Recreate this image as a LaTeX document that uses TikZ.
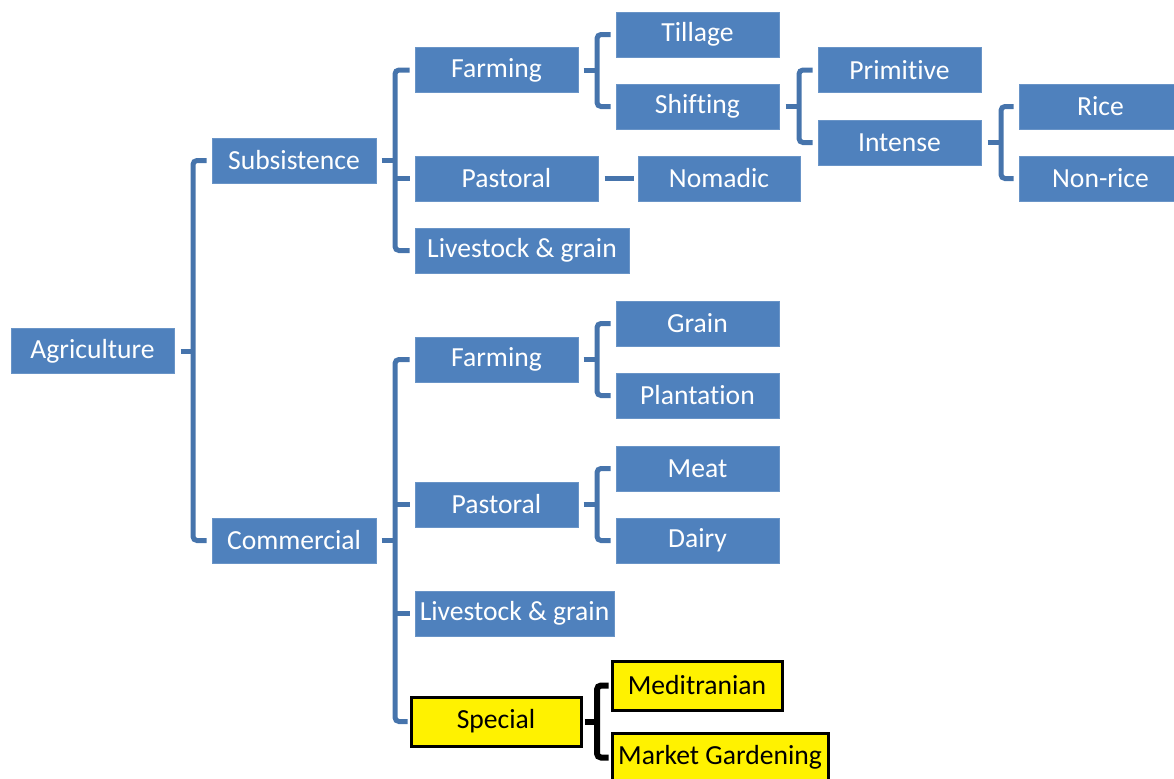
\documentclass[tikz,border=0pt]{standalone}
\usepackage{fontspec}
\setmainfont{Carlito}[Ligatures={NoCommon}]
\definecolor{boxblue}{HTML}{4F81BD}
\definecolor{lineblue}{HTML}{4674AC}
\begin{document}
\begin{tikzpicture}[x=0.5pt,y=-0.5pt,
  box/.style={fill=boxblue,draw=boxblue!85!white,line width=0.5pt,text=white,
    minimum height=22.5pt,inner sep=0pt,font=\fontsize{13.8}{16}\selectfont},
  yellowbox/.style={box,fill=yellow,draw=black,line width=1.5pt,text=black,minimum height=24.5pt},
  br/.style={draw=lineblue,line width=2.5pt,rounded corners=2pt},
  brk/.style={br,draw=black,line width=3pt}]
\useasboundingbox (0,0) rectangle (1174,778);

% level 0 and 1
\node[box,minimum width=81.5pt] (agri) at (92.5,351) {Agriculture};
\node[box,minimum width=82pt] (subs) at (294,160.5) {Subsistence};
\node[box,minimum width=82pt] (comm) at (294,540.5) {Commercial};

% subsistence branch
\node[box,minimum width=81.5pt] (sfarm) at (496.5,70) {Farming};
\node[box,minimum width=91.5pt] (spast) at (506.5,178.5) {Pastoral};
\node[box,minimum width=107pt] (slive) at (522,250.5) {Livestock \& grain};
\node[box,minimum width=81.5pt] (till) at (697.5,34.5) {Tillage};
\node[box,minimum width=81.5pt] (shift) at (697.5,106.5) {Shifting};
\node[box,minimum width=81pt] (nomad) at (719,178.5) {Nomadic};
\node[box,minimum width=81.5pt] (prim) at (899.5,70) {Primitive};
\node[box,minimum width=81.5pt] (intense) at (899.5,142.5) {Intense};
\node[box,minimum width=81.5pt] (rice) at (1100.5,106.5) {Rice};
\node[box,minimum width=81.5pt] (nonrice) at (1100.5,178.5) {Non-rice};

% commercial branch
\node[box,minimum width=81.5pt] (cfarm) at (496.5,359.5) {Farming};
\node[box,minimum width=81.5pt] (cpast) at (496.5,504.5) {Pastoral};
\node[box,minimum width=99.5pt] (clive) at (514.5,613.5) {Livestock \& grain};
\node[yellowbox,minimum width=85pt] (special) at (496,721.5) {Special};
\node[box,minimum width=81.5pt] (grain) at (697.5,323.5) {Grain};
\node[box,minimum width=81.5pt] (plant) at (697.5,395.5) {Plantation};
\node[box,minimum width=81.5pt] (meat) at (697.5,468.5) {Meat};
\node[box,minimum width=81.5pt] (dairy) at (697.5,540.5) {Dairy};
\node[yellowbox,minimum width=85pt] (medi) at (697,685.5) {Meditranian};
\node[yellowbox,minimum width=108pt] (market) at (720,757.5) {Market Gardening};

% bracket columns
\coordinate (v1) at (193,0);
\coordinate (v2) at (395,0);
\coordinate (v3) at (597,0);
\coordinate (v4) at (799,0);
\coordinate (v5) at (1001,0);

% Agriculture
\draw[br] ([xshift=-2.5pt]subs.west) -| (v1 |- comm.west) -- ([xshift=-2.5pt]comm.west);
\draw[br,rounded corners=0pt] ([xshift=3pt]agri.east) -- (v1 |- agri.east);

% Subsistence
\draw[br] ([xshift=-2.5pt]sfarm.west) -| (v2 |- slive.west) -- ([xshift=-2.5pt]slive.west);
\draw[br,rounded corners=0pt] ([xshift=2.5pt]subs.east) -- (v2 |- subs.east);
\draw[br,rounded corners=0pt] (v2 |- spast.west) -- ([xshift=-2.5pt]spast.west);
\draw[br] ([xshift=-2.5pt]till.west) -| (v3 |- shift.west) -- ([xshift=-2.5pt]shift.west);
\draw[br,rounded corners=0pt] ([xshift=2.5pt]sfarm.east) -- (v3 |- sfarm.east);
\draw[br,rounded corners=0pt] ([xshift=3pt]spast.east) -- ([xshift=-2pt]nomad.west);
\draw[br] ([xshift=-2.5pt]prim.west) -| (v4 |- intense.west) -- ([xshift=-2.5pt]intense.west);
\draw[br,rounded corners=0pt] ([xshift=3pt]shift.east) -- (v4 |- shift.east);
\draw[br] ([xshift=-2.5pt]rice.west) -| (v5 |- nonrice.west) -- ([xshift=-2.5pt]nonrice.west);
\draw[br,rounded corners=0pt] ([xshift=3pt]intense.east) -- (v5 |- intense.east);

% Commercial
\draw[br] ([xshift=-2.5pt]cfarm.west) -| (v2 |- special.west) -- ([xshift=-1pt]special.west);
\draw[br,rounded corners=0pt] ([xshift=2.5pt]comm.east) -- (v2 |- comm.east);
\draw[br,rounded corners=0pt] (v2 |- cpast.west) -- ([xshift=-2.5pt]cpast.west);
\draw[br,rounded corners=0pt] (v2 |- clive.west) -- ([xshift=-2.5pt]clive.west);
\draw[br] ([xshift=-2.5pt]grain.west) -| (v3 |- plant.west) -- ([xshift=-2.5pt]plant.west);
\draw[br,rounded corners=0pt] ([xshift=2.5pt]cfarm.east) -- (v3 |- cfarm.east);
\draw[br] ([xshift=-2.5pt]meat.west) -| (v3 |- dairy.west) -- ([xshift=-2.5pt]dairy.west);
\draw[br,rounded corners=0pt] ([xshift=2.5pt]cpast.east) -- (v3 |- cpast.east);
\draw[brk] ([xshift=-1pt]medi.west) -| (v3 |- market.west) -- ([xshift=-1pt]market.west);
\draw[brk,rounded corners=0pt] ([xshift=1pt]special.east) -- (v3 |- special.east);
\end{tikzpicture}
\end{document}
